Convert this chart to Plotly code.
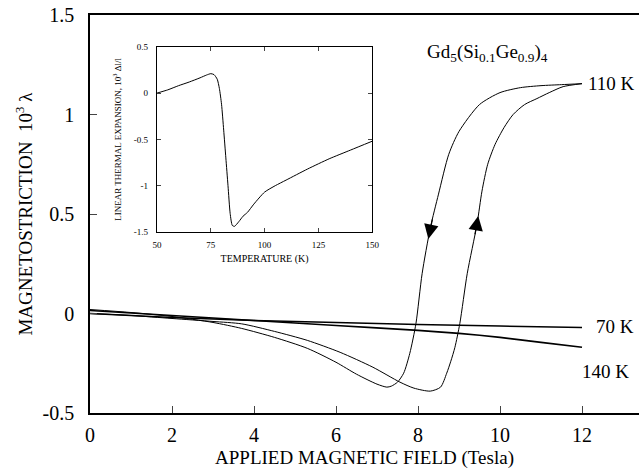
import numpy as np
import plotly.graph_objects as go

# ---------------- data ----------------
# 110 K, decreasing field (12 T -> 0 T)
field_110_down = [12, 11.5, 11, 10.5, 10, 9.5, 9.0, 8.75, 8.5, 8.3, 8.1, 7.95, 7.8, 7.65,
                  7.5, 7.35, 7.24, 7.0, 6.5, 6.0, 5.3, 4.5, 3.7, 3.0, 2.0, 1.0, 0]
lam_110_down = [1.155, 1.15, 1.145, 1.135, 1.11, 1.05, 0.915, 0.8, 0.6, 0.43, 0.2, -0.05, -0.2, -0.3,
                -0.345, -0.365, -0.37, -0.355, -0.305, -0.245, -0.175, -0.12, -0.075, -0.045, -0.015, 0.005, 0.02]
# 110 K, increasing field (0 T -> 12 T)
field_110_up = [0, 1, 2, 3, 3.7, 4.5, 5.3, 6.1, 6.9, 7.56, 7.9, 8.3, 8.55, 8.7, 8.8, 8.9, 9.02,
                9.2, 9.44, 9.56, 9.7, 9.88, 10.1, 10.32, 10.6, 10.9, 11.2, 11.54, 12]
lam_110_up = [0, -0.01, -0.025, -0.04, -0.052, -0.09, -0.135, -0.195, -0.27, -0.345, -0.375, -0.39, -0.37,
              -0.3, -0.24, -0.17, -0.05, 0.2, 0.45, 0.615, 0.75, 0.85, 0.935, 1.0, 1.05, 1.08, 1.11, 1.14, 1.155]
# 70 K
field_70 = [0, 2, 4, 6, 8, 10, 12]
lam_70 = [0.0, -0.02, -0.035, -0.045, -0.055, -0.063, -0.07]
# 140 K
field_140 = [0, 2, 4, 6, 8, 9, 10, 11, 12]
lam_140 = [0.015, -0.01, -0.035, -0.06, -0.085, -0.1, -0.12, -0.145, -0.17]

# inset: linear thermal expansion vs temperature
temp_K = [50, 55, 60, 65, 70, 73, 75, 76.5, 78, 79, 80, 81, 82, 83, 84, 85, 86, 88, 90, 92,
          95, 100, 105, 110, 120, 130, 140, 150]
dl_l = [0, 0.035, 0.08, 0.12, 0.165, 0.195, 0.21, 0.2, 0.15, 0.05, -0.12, -0.4, -0.7, -1.0, -1.3,
        -1.43, -1.44, -1.39, -1.33, -1.29, -1.2, -1.07, -1.0, -0.94, -0.82, -0.71, -0.615, -0.52]

main_x_ticks = [0, 2, 4, 6, 8, 10, 12]
main_y_ticks = [-0.5, 0, 0.5, 1, 1.5]
main_y_labels = ["-0.5", "0", "0.5", "1", "1.5"]
inset_x_ticks = [50, 75, 100, 125, 150]
inset_y_ticks = [-1.5, -1, -0.5, 0, 0.5]
inset_y_labels = ["-1.5", "-1", "-0.5", "0", "0.5"]

# arrow tip/tail heights on the steep branches
arrow_down_tip, arrow_down_tail = 0.375, 0.48
arrow_up_tip, arrow_up_tail = 0.49, 0.39

SERIF = "Liberation Serif"

fig = go.Figure()
line = dict(color="black", width=1, shape="spline", smoothing=0.7)
fig.add_trace(go.Scatter(x=field_110_down, y=lam_110_down, mode="lines", line=line))
fig.add_trace(go.Scatter(x=field_110_up, y=lam_110_up, mode="lines", line=line))
fig.add_trace(go.Scatter(x=field_70, y=lam_70, mode="lines",
                         line=dict(color="black", width=1.6, shape="spline", smoothing=0.5)))
fig.add_trace(go.Scatter(x=field_140, y=lam_140, mode="lines",
                         line=dict(color="black", width=1.6, shape="spline", smoothing=0.5)))
fig.add_trace(go.Scatter(x=temp_K, y=dl_l, mode="lines",
                         line=dict(color="black", width=1, shape="spline", smoothing=0.6),
                         xaxis="x2", yaxis="y2"))


def x_on_branch(xs, ys, i0, i1, yv):
    sx = np.array(xs[i0:i1 + 1], float)
    sy = np.array(ys[i0:i1 + 1], float)
    order = np.argsort(sy)
    return float(np.interp(yv, sy[order], sx[order]))


annotations = []
tx = x_on_branch(field_110_down, lam_110_down, 5, 12, arrow_down_tip)
ax_ = x_on_branch(field_110_down, lam_110_down, 5, 12, arrow_down_tail)
annotations.append(dict(x=tx, y=arrow_down_tip, ax=ax_, ay=arrow_down_tail, xref="x", yref="y",
                        axref="x", ayref="y", text="", showarrow=True, arrowhead=2,
                        arrowsize=2.4, arrowwidth=1.2, arrowcolor="black"))
tx = x_on_branch(field_110_up, lam_110_up, 15, 20, arrow_up_tip)
ax_ = x_on_branch(field_110_up, lam_110_up, 15, 20, arrow_up_tail)
annotations.append(dict(x=tx, y=arrow_up_tip, ax=ax_, ay=arrow_up_tail, xref="x", yref="y",
                        axref="x", ayref="y", text="", showarrow=True, arrowhead=2,
                        arrowsize=2.4, arrowwidth=1.2, arrowcolor="black"))

lab_font = dict(family=SERIF, size=19, color="black")
annotations += [
    dict(x=12.1, y=lam_110_up[-1], text="110 K", xref="x", yref="y", xanchor="left",
         yanchor="middle", showarrow=False, font=lab_font),
    dict(x=12.3, y=-0.065, text="70 K", xref="x", yref="y", xanchor="left",
         yanchor="middle", showarrow=False, font=lab_font),
    dict(x=11.95, y=-0.29, text="140 K", xref="x", yref="y", xanchor="left",
         yanchor="middle", showarrow=False, font=lab_font),
    dict(x=8.17, y=1.31, text="Gd<sub>5</sub>(Si<sub>0.1</sub>Ge<sub>0.9</sub>)<sub>4</sub>",
         xref="x", yref="y", xanchor="left", yanchor="middle", showarrow=False, font=lab_font),
]

fig.update_layout(
    width=639, height=472,
    margin=dict(l=90, r=0, t=15, b=59, autoexpand=False),
    paper_bgcolor="white", plot_bgcolor="white",
    showlegend=False,
    font=dict(family=SERIF, color="black"),
    annotations=annotations,
    xaxis=dict(range=[0, 13.39], tickvals=main_x_ticks, ticks="inside", ticklen=7,
               showline=True, linecolor="black", linewidth=1.5, mirror=True,
               showgrid=False, zeroline=False, tickfont=dict(family=SERIF, size=20),
               ticklabelstandoff=3, automargin=False,
               title=dict(text="APPLIED MAGNETIC FIELD (Tesla)", font=dict(family=SERIF, size=19),
                          standoff=6)),
    yaxis=dict(range=[-0.5, 1.5], tickvals=main_y_ticks, ticktext=main_y_labels,
               ticks="inside", ticklen=7, showline=True, linecolor="black", linewidth=1.5,
               showgrid=False, zeroline=False, tickfont=dict(family=SERIF, size=20),
               ticklabelstandoff=10, automargin=False,
               title=dict(text="MAGNETOSTRICTION  10<sup>3</sup> λ", font=dict(family=SERIF, size=19),
                          standoff=5)),
    xaxis2=dict(domain=[0.122, 0.514], anchor="y2", range=[50, 150], tickvals=inset_x_ticks,
                ticks="inside", ticklen=4, showline=True, linecolor="black", linewidth=1.2,
                mirror="ticks", showgrid=False, zeroline=False, tickfont=dict(family=SERIF, size=9),
                ticklabelstandoff=4,
                title=dict(text="TEMPERATURE (K)", font=dict(family=SERIF, size=10), standoff=6)),
    yaxis2=dict(domain=[0.455, 0.920], anchor="x2", range=[-1.5, 0.5], tickvals=inset_y_ticks,
                ticktext=inset_y_labels, ticks="inside", ticklen=4, showline=True,
                linecolor="black", linewidth=1.2, mirror="ticks", showgrid=False, zeroline=False,
                tickfont=dict(family=SERIF, size=9), ticklabelstandoff=6,
                title=dict(text="LINEAR THERMAL EXPANSION, 10<sup>3</sup> Δl/l",
                           font=dict(family=SERIF, size=9), standoff=10)),
)

fig.write_html("out.html", config={"displayModeBar": False},
               post_script="document.body.style.margin='0';")
